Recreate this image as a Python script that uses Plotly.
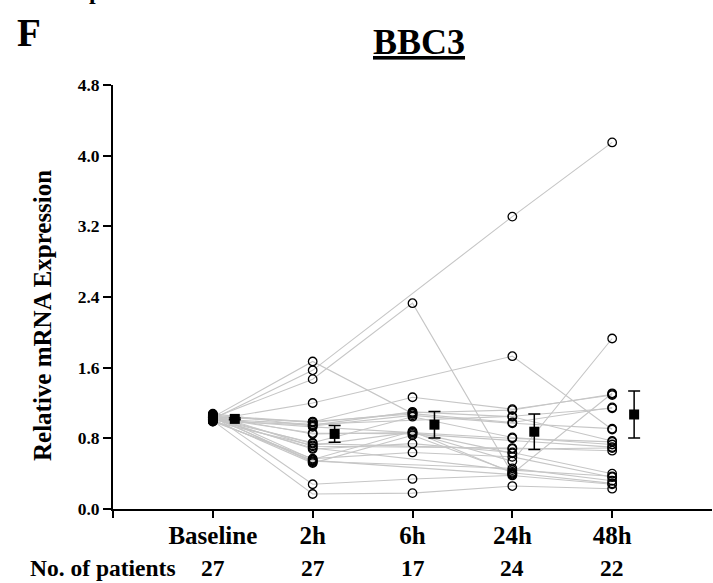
import plotly.graph_objects as go

# ---------------- data ----------------
timepoints = ["Baseline", "2h", "6h", "24h", "48h"]
patients_n = [27, 27, 17, 24, 22]

# individual patient values per time point (None = missing)
baseline = [1.04, 1.02, 1.03, 1.01, 1.06, 1.00, 1.05, 1.02, 1.07, 1.03, 0.99, 1.04, 1.01, 1.06,
            1.00, 1.05, 1.02, 1.08, 1.01, 1.03, 1.04, 0.99, 1.02, 1.07, 1.00, 1.05, 1.04]
h2 = [1.67, 1.57, 1.47, 1.20, 0.985, 0.95, 0.85, 0.75, 0.71, 0.68, 0.57, 0.54, 0.52, 0.28,
      0.17, 0.98, 0.96, 0.94, 0.93, 0.86, 0.74, 0.72, 0.69, 0.56, 0.55, 0.53, 0.99]
h6 = [1.08, None, 2.33, None, 1.265, 1.10, 0.865, 1.045, None, 0.74, 0.64, None, 0.835, 0.34,
      0.18, 1.09, None, 1.06, None, 0.85, None, 0.87, None, 0.88, None, None, 1.076]
h24 = [0.98, 3.31, 0.40, 1.73, 1.13, 1.045, 0.54, 0.81, 0.69, 0.64, 0.59, 0.46, 0.42, 0.38,
       0.26, 1.12, 1.05, 0.97, 0.80, None, 0.68, 0.63, 0.44, 0.41, 0.39, None, None]
h48 = [1.15, 4.15, 1.31, 0.90, 1.29, 0.77, 1.93, 0.73, 0.66, 0.40, 0.36, 0.32, None, 0.28,
       0.23, 1.30, 1.14, 0.91, 0.76, 0.70, 0.69, None, 0.37, 0.29, None, None, None]

# group mean and error
mean_vals = [1.02, 0.85, 0.955, 0.875, 1.07]
err_vals = [0.01, 0.095, 0.15, 0.20, 0.265]

y_ticks = [0.0, 0.8, 1.6, 2.4, 3.2, 4.0, 4.8]

# ---------------- figure ----------------
FONT = "Liberation Serif"
x_pos = [1, 2, 3, 4, 5]
mean_offset = 0.22

fig = go.Figure()

columns = [baseline, h2, h6, h24, h48]
n_pat = len(baseline)
for i in range(n_pat):
    ys = [col[i] for col in columns]
    fig.add_trace(go.Scatter(
        x=x_pos, y=ys, mode="lines", connectgaps=True,
        line=dict(color="#c6c6c6", width=1.1),
        hoverinfo="skip", showlegend=False,
    ))

for xi, col in zip(x_pos, columns):
    vals = [v for v in col if v is not None]
    fig.add_trace(go.Scatter(
        x=[xi] * len(vals), y=vals, mode="markers",
        marker=dict(symbol="circle-open", size=8.5, color="black", line=dict(width=1.3)),
        cliponaxis=False, showlegend=False,
    ))

fig.add_trace(go.Scatter(
    x=[x + mean_offset for x in x_pos], y=mean_vals, mode="markers",
    marker=dict(symbol="square", size=10, color="black"),
    error_y=dict(type="data", array=err_vals, color="black", thickness=1.5, width=6),
    cliponaxis=False, showlegend=False,
))

L, T, W, H = 113, 85, 599, 424


def px(x):
    return (x - L) / W


def py(y):
    return (T + H - y) / H


fig.update_layout(
    width=713, height=583,
    margin=dict(l=L, r=713 - L - W, t=T, b=583 - T - H),
    plot_bgcolor="white", paper_bgcolor="white",
    font=dict(family=FONT, color="black"),
    xaxis=dict(
        range=[0, 6], showgrid=False, zeroline=False,
        showline=True, linecolor="black", linewidth=2,
        tickmode="array", tickvals=[0] + x_pos, ticktext=[""] + timepoints,
        ticks="outside", ticklen=7, tickwidth=2, tickcolor="black",
        ticklabelstandoff=-4,
        tickfont=dict(family=FONT, size=25, weight="bold", color="black"),
    ),
    yaxis=dict(
        range=[0, 4.8], showgrid=False, zeroline=False,
        showline=True, linecolor="black", linewidth=2,
        tickmode="array", tickvals=y_ticks, ticktext=[f"{v:.1f}" for v in y_ticks],
        ticks="outside", ticklen=8, tickwidth=2, tickcolor="black",
        tickfont=dict(family=FONT, size=17.5, weight="bold", color="black"),
    ),
)


def note(text, x, y, size, xref="paper", angle=0):
    return dict(text=text, x=x, y=y, xref=xref, yref="paper", showarrow=False,
                xanchor="center", yanchor="middle", textangle=angle,
                font=dict(family=FONT, size=size, weight="bold", color="black"))


ann = [
    note("p", px(95), py(-9), 24),
    note("F", px(29), py(32), 39),
    note("<u>BBC3</u>", px(419), py(42), 36),
    note("Relative mRNA Expression", px(42), py(316), 25, angle=-90),
    note("No. of patients", px(103), py(568), 23.5),
]
for xi, n in zip(x_pos, patients_n):
    ann.append(note(str(n), xi, py(568), 23.5, xref="x"))
fig.update_layout(annotations=ann)

fig.write_html("out.html")
